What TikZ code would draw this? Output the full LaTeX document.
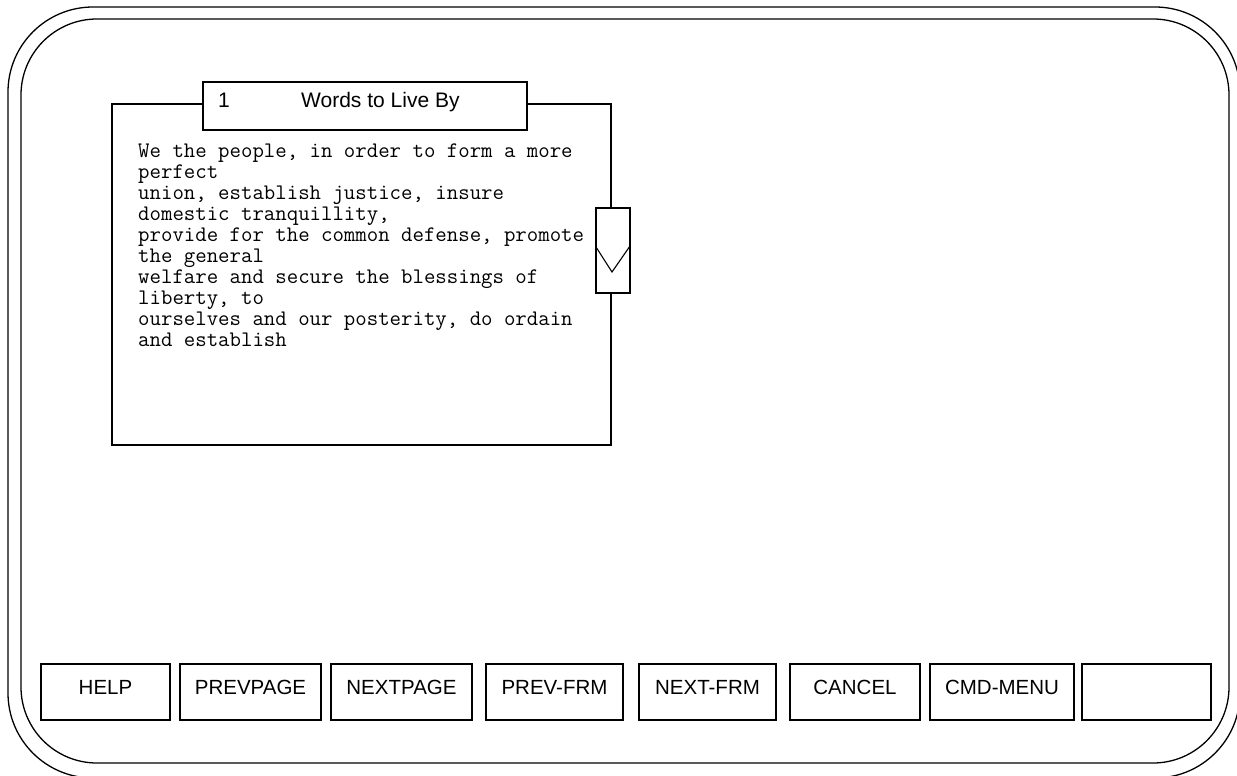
\documentclass[tikz,border=0pt]{standalone}
\usepackage{fontspec}
\setmainfont{Liberation Sans}
\begin{document}
\begin{tikzpicture}[x=1pt,y=-1pt,
  frame/.style={line width=1.3pt},
  panel/.style={draw,line width=1.3pt,fill=white},
  btn/.style={draw,line width=1.3pt,fill=white,inner sep=0pt,minimum height=56pt},
  btntext/.style={anchor=base,inner sep=0pt,font=\fontsize{20.5}{24}\selectfont},
  titletext/.style={anchor=base west,inner sep=0pt,font=\fontsize{21}{25}\selectfont},
  codeline/.style={anchor=base west,inner sep=0pt,font=\ttfamily\fontsize{22.2}{23}\selectfont}]
\useasboundingbox (0,0) rectangle (1237,776);
% double rounded outline of the screen
\draw[frame,rounded corners=85pt] (8,7) rectangle (1240,778);
\draw[frame,rounded corners=76pt] (21,19) rectangle (1229,763);
% text window
\node[panel,minimum width=499pt,minimum height=341pt,inner sep=0pt] (win) at (361.5,274.5) {};
\node[panel,minimum width=324pt,minimum height=48pt,inner sep=0pt] (title) at (365,106) {};
\node[titletext] (tnum) at (218,107) {1};
\node[titletext] (tname) at (301,107) {Words to Live By};
% scroll indicator on the right edge
\node[panel,minimum width=34pt,minimum height=85pt,inner sep=0pt] (scroll) at (613,250.5) {};
\coordinate (vl) at (596,247);
\coordinate (vb) at (612,272);
\coordinate (vr) at (630,246);
\draw[line width=1.1pt] (vl) -- (vb) -- (vr);
% window contents
\foreach \t [count=\i from 0] in {
  {We the people, in order to form a more},
  {perfect},
  {union, establish justice, insure},
  {domestic tranquillity,},
  {provide for the common defense, promote},
  {the general},
  {welfare and secure the blessings of},
  {liberty, to},
  {ourselves and our posterity, do ordain},
  {and establish}}
  \node[codeline] (line\i) at (138,157+21.1*\i) {\t};
% function key row
\foreach \name/\xa/\xb/\lbl in {
  help/41/170/HELP,
  prevpage/180/321/PREVPAGE,
  nextpage/331/472/NEXTPAGE,
  prevfrm/486/623/PREV-FRM,
  nextfrm/639/776/NEXT-FRM,
  cancel/790/920/CANCEL,
  cmdmenu/930/1074/CMD-MENU,
  blank/1082/1211/{}}
{
  \node[btn,minimum width={\xb-\xa}] (\name) at ({(\xa+\xb)/2},692) {};
  \node[btntext] at (\name.center) [yshift=-2pt] {\lbl};
}
\end{tikzpicture}
\end{document}
